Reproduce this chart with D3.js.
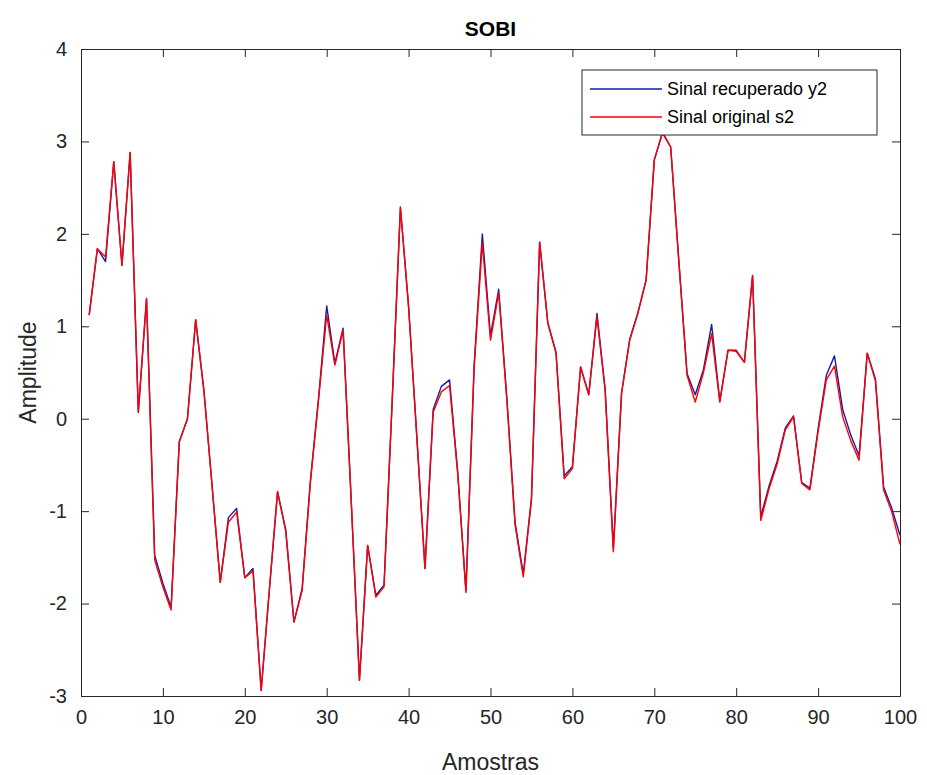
<!DOCTYPE html>
<html>
<head>
  <meta charset="utf-8">
  <script src="https://d3js.org/d3.v7.min.js"></script>
  <style>
    body { margin: 0; background: #fff; }
    text { font-family: "Liberation Sans", Arial, sans-serif; fill: #262626; }
    .axis path, .axis line { stroke: #262626; stroke-width: 1px; }
    .axis text { font-size: 20px; fill: #262626; }
  </style>
</head>
<body>
<div id="plot"></div>
<script>
// sample index 1..100
var amostras = d3.range(1, 101);

// Sinal original s2 (red)
var s2 = [
  1.12, 1.84, 1.75, 2.78, 1.66, 2.88, 0.07, 1.30, -1.53, -1.82,
  -2.07, -0.25, 0.00, 1.07, 0.31, -0.72, -1.77, -1.12, -1.01, -1.72,
  -1.65, -2.94, -1.85, -0.79, -1.22, -2.20, -1.86, -0.70, 0.20, 1.12,
  0.58, 0.96, -0.90, -2.83, -1.37, -1.93, -1.82, 0.20, 2.28, 1.21,
  -0.20, -1.62, 0.07, 0.29, 0.36, -0.60, -1.88, 0.55, 1.90, 0.85,
  1.36, 0.20, -1.15, -1.71, -0.88, 1.91, 1.03, 0.71, -0.65, -0.54,
  0.56, 0.26, 1.10, 0.30, -1.44, 0.27, 0.85, 1.14, 1.50, 2.80,
  3.09, 2.94, 1.70, 0.47, 0.18, 0.50, 0.92, 0.18, 0.74, 0.73,
  0.61, 1.55, -1.10, -0.76, -0.49, -0.12, 0.02, -0.70, -0.77, -0.14,
  0.42, 0.57, 0.02, -0.24, -0.45, 0.71, 0.41, -0.77, -1.01, -1.36
];

// Sinal recuperado y2 (blue)
var y2 = [
  1.12, 1.84, 1.70, 2.78, 1.66, 2.88, 0.07, 1.30, -1.48, -1.78,
  -2.04, -0.25, 0.00, 1.07, 0.31, -0.72, -1.77, -1.07, -0.97, -1.72,
  -1.62, -2.94, -1.85, -0.79, -1.20, -2.20, -1.84, -0.68, 0.22, 1.22,
  0.60, 0.98, -0.90, -2.83, -1.37, -1.91, -1.80, 0.20, 2.29, 1.21,
  -0.18, -1.62, 0.10, 0.35, 0.42, -0.58, -1.86, 0.57, 2.00, 0.90,
  1.40, 0.22, -1.12, -1.68, -0.86, 1.91, 1.04, 0.72, -0.62, -0.52,
  0.56, 0.26, 1.14, 0.32, -1.40, 0.28, 0.86, 1.15, 1.50, 2.80,
  3.10, 2.94, 1.70, 0.49, 0.26, 0.53, 1.02, 0.19, 0.74, 0.74,
  0.61, 1.55, -1.06, -0.73, -0.46, -0.10, 0.03, -0.69, -0.75, -0.11,
  0.47, 0.68, 0.10, -0.18, -0.40, 0.71, 0.43, -0.74, -0.97, -1.26
];

var xTicks = d3.range(0, 101, 10);
var yTicks = [-3, -2, -1, 0, 1, 2, 3, 4];
var seriesNames = ["Sinal recuperado y2", "Sinal original s2"];
var seriesColors = ["#1a1aa0", "#ff0000"];

var W = 927, H = 775;
var margin = {top: 49, right: 27, bottom: 79, left: 81};
var width = W - margin.left - margin.right,
    height = H - margin.top - margin.bottom;

var svg = d3.select('#plot').append('svg')
    .attr('width', W).attr('height', H);

var g = svg.append('g')
    .attr('transform', 'translate(' + margin.left + ',' + margin.top + ')');

var xScale = d3.scaleLinear().domain([0, 100]).range([0, width]);
var yScale = d3.scaleLinear().domain([-3, 4]).range([height, 0]);

var plain = function(d){ return String(d); };

// axes (ticks pointing inward, box on)
g.append('g').attr('class', 'axis')
    .attr('transform', 'translate(0,' + height + ')')
    .call(d3.axisBottom(xScale).tickValues(xTicks).tickFormat(plain).tickSizeInner(-8).tickSizeOuter(0).tickPadding(14))
    .call(function(a){ a.selectAll('text').attr('dy', '0.71em'); });

g.append('g').attr('class', 'axis')
    .call(d3.axisLeft(yScale).tickValues(yTicks).tickFormat(plain).tickSizeInner(-8).tickSizeOuter(0).tickPadding(14));

g.append('g').attr('class', 'axis')
    .call(d3.axisTop(xScale).tickValues(xTicks).tickSizeInner(-8).tickSizeOuter(0).tickFormat(''));

g.append('g').attr('class', 'axis')
    .attr('transform', 'translate(' + width + ',0)')
    .call(d3.axisRight(yScale).tickValues(yTicks).tickSizeInner(-8).tickSizeOuter(0).tickFormat(''));

// lines
var line = d3.line()
    .x(function(d, i){ return xScale(amostras[i]); })
    .y(function(d){ return yScale(d); });

[y2, s2].forEach(function(s, k){
  g.append('path')
    .datum(s)
    .attr('fill', 'none')
    .attr('stroke', seriesColors[k])
    .attr('stroke-width', 1.4)
    .attr('stroke-linejoin', 'round')
    .attr('d', line);
});

// title
svg.append('text')
    .attr('x', margin.left + width / 2)
    .attr('y', 36)
    .attr('text-anchor', 'middle')
    .style('font-size', '21px')
    .style('font-weight', 'bold')
    .style('fill', '#000')
    .text('SOBI');

// axis labels
svg.append('text')
    .attr('x', margin.left + width / 2)
    .attr('y', 770)
    .attr('text-anchor', 'middle')
    .style('font-size', '23px')
    .text('Amostras');

svg.append('text')
    .attr('transform', 'translate(36,' + (margin.top + height / 2) + ') rotate(-90)')
    .attr('text-anchor', 'middle')
    .style('font-size', '23px')
    .text('Amplitude');

// legend
var lg = svg.append('g').attr('transform', 'translate(582,70)');
lg.append('rect')
    .attr('width', 295).attr('height', 65)
    .attr('fill', '#fff').attr('stroke', '#262626').attr('stroke-width', 1);

var item = lg.selectAll('.legend')
    .data(seriesNames)
    .enter().append('g')
    .attr('class', 'legend')
    .attr('transform', function(d, i){ return 'translate(0,' + (19 + i * 28) + ')'; });

item.append('line')
    .attr('x1', 8).attr('x2', 80)
    .attr('stroke', function(d, i){ return seriesColors[i]; })
    .attr('stroke-width', 1.4);

item.append('text')
    .attr('x', 85).attr('dy', '0.35em')
    .style('font-size', '18px')
    .style('fill', '#000')
    .text(function(d){ return d; });
</script>
</body>
</html>
